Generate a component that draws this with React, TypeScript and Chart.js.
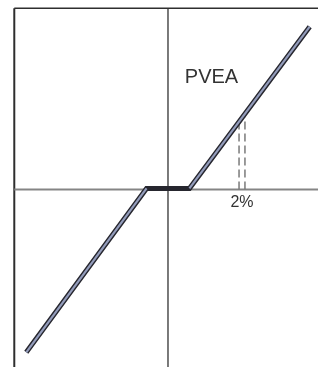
import React, { useEffect, useRef } from "react";
import { Chart, registerables } from "chart.js";

Chart.register(...registerables);

// Characteristic curve (input %, output) with a dead band around zero
const curveX = [-3.83, -0.58, 0.58, 3.83];
const curveY = [-4.4, 0.03, 0.03, 4.4];

// Frame / axis extents
const xMin = -4.54;
const xMax = 4.054;
const yMin = -4.797;
const yMax = 5.122;
const frameLeft = -4.154;
const frameTop = 4.897;

// Dashed markers around 2%
const dashX = [1.92, 2.08];
const dashTop = [1.8, 1.95];

// Text labels
const labelText = ["PVEA", "2%"];
const labelX = [1.176, 2.0];
const labelY = [3.03, -0.365];
const labelSize = [20, 16];

const pts = (xs: number[], ys: number[]) => xs.map((x, i) => ({ x, y: ys[i] }));

export default function App() {
  const ref = useRef<HTMLCanvasElement | null>(null);

  useEffect(() => {
    if (!ref.current) return;
    const textPlugin = {
      id: "labels",
      afterDatasetsDraw(chart: any) {
        const ctx = chart.ctx;
        const xs = chart.scales.x;
        const ys = chart.scales.y;
        ctx.save();
        ctx.fillStyle = "#333333";
        ctx.textAlign = "center";
        ctx.textBaseline = "middle";
        labelText.forEach((t, i) => {
          ctx.font = `${labelSize[i]}px "Liberation Sans", Arial, sans-serif`;
          ctx.fillText(t, xs.getPixelForValue(labelX[i]), ys.getPixelForValue(labelY[i]));
        });
        ctx.restore();
      },
    };

    const base = { pointRadius: 0, pointHoverRadius: 0, fill: false, tension: 0, borderCapStyle: "butt" as const };

    const chart = new Chart(ref.current, {
      type: "line",
      data: {
        datasets: [
          // inner light stroke on the sloped parts
          { ...base, order: 1, data: pts(curveX.slice(0, 2), curveY.slice(0, 2)), borderColor: "#939cbb", borderWidth: 2.2 },
          { ...base, order: 1, data: pts(curveX.slice(2, 4), curveY.slice(2, 4)), borderColor: "#939cbb", borderWidth: 2.2 },
          // outer dark stroke
          { ...base, order: 2, data: pts(curveX, curveY), borderColor: "#26262e", borderWidth: 5, borderJoinStyle: "miter" as const },
          // dashed markers
          ...dashX.map((dx, i) => ({
            ...base,
            order: 5,
            data: [{ x: dx, y: 0 }, { x: dx, y: dashTop[i] }],
            borderColor: "#7a7a7a",
            borderWidth: 1.5,
            borderDash: [8, 4],
          })),
          // horizontal axis
          { ...base, order: 8, data: [{ x: frameLeft, y: 0 }, { x: xMax, y: 0 }], borderColor: "#858585", borderWidth: 2 },
          // vertical axis
          { ...base, order: 9, data: [{ x: 0, y: yMin }, { x: 0, y: frameTop }], borderColor: "#333333", borderWidth: 1.3 },
          // frame left
          { ...base, order: 9, data: [{ x: frameLeft, y: yMin }, { x: frameLeft, y: frameTop }], borderColor: "#2e2e2e", borderWidth: 2 },
          // frame top
          { ...base, order: 9, data: [{ x: frameLeft, y: frameTop }, { x: xMax, y: frameTop }], borderColor: "#2e2e2e", borderWidth: 1.6 },
        ],
      },
      options: {
        animation: false,
        responsive: false,
        devicePixelRatio: 1,
        layout: { padding: 0 },
        plugins: { legend: { display: false }, tooltip: { enabled: false } },
        events: [],
        scales: {
          x: { type: "linear", min: xMin, max: xMax, display: false },
          y: { type: "linear", min: yMin, max: yMax, display: false },
        },
      },
      plugins: [textPlugin],
    });
    return () => chart.destroy();
  }, []);

  return (
    <div style={{ position: "absolute", left: 0, top: 0, width: 318, height: 367, background: "#fff" }}>
      <canvas ref={ref} width={318} height={367} style={{ width: 318, height: 367 }} />
    </div>
  );
}
